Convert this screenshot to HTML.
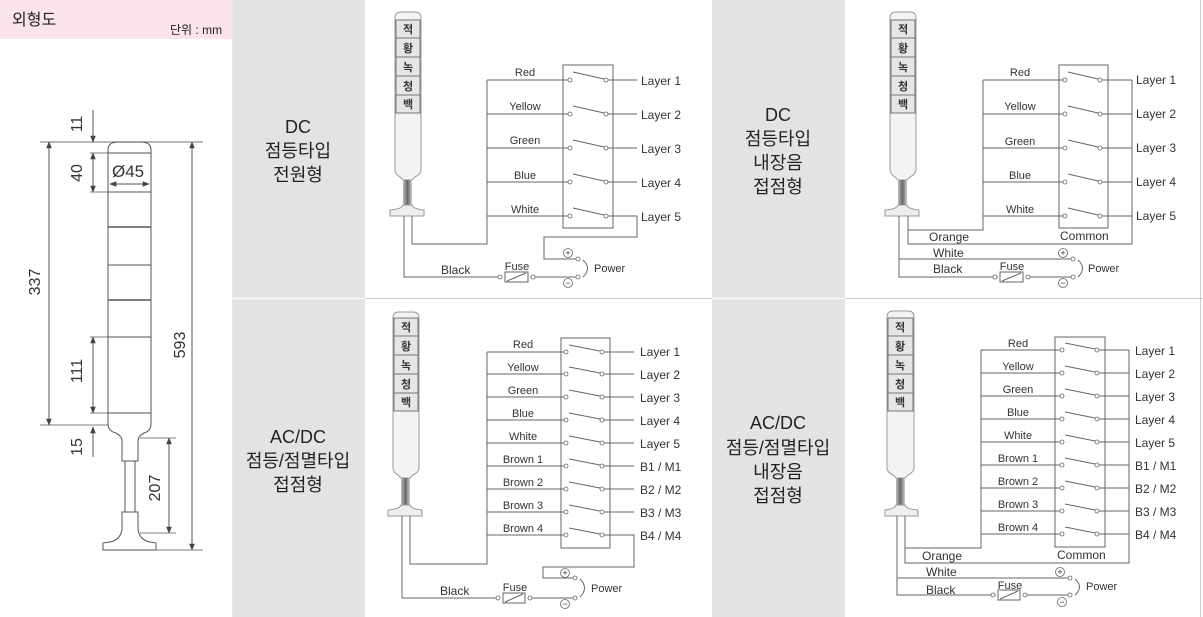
<!DOCTYPE html>
<html><head><meta charset="utf-8"><style>
html,body{margin:0;padding:0;background:#fff;}
svg{display:block;font-family:"Liberation Sans","Noto Sans CJK KR",sans-serif;}
.w{stroke:#666;stroke-width:1;fill:none}
.c{fill:#fff;stroke:#666;stroke-width:0.8}
.t{font-size:11px;fill:#333}
.L{font-size:12px;fill:#333}
.k{font-size:11px;font-weight:bold;fill:#333;text-anchor:middle}
.g{font-size:18px;fill:#222;text-anchor:middle}
.d{font-size:16px;fill:#333}
</style></head><body>
<svg width="1203" height="617" viewBox="0 0 1203 617" xmlns="http://www.w3.org/2000/svg">
<defs>
<linearGradient id="nk" x1="0" x2="1"><stop offset="0" stop-color="#bbb"/><stop offset="0.5" stop-color="#666"/><stop offset="1" stop-color="#ccc"/></linearGradient>
<marker id="ar" viewBox="0 0 10 10" refX="9" refY="5" markerWidth="7" markerHeight="7" orient="auto-start-reverse"><path d="M0,1 L10,5 L0,9 z" fill="#444"/></marker>
</defs>
<!-- backgrounds -->
<rect x="233" y="0" width="132" height="617" fill="#e3e3e3"/>
<rect x="712" y="0" width="133" height="617" fill="#e3e3e3"/>
<rect x="0" y="0" width="232" height="39" fill="#fbe3ee"/>
<line x1="232.5" y1="0" x2="232.5" y2="617" stroke="#e8e8e8"/>
<line x1="365" y1="298.5" x2="712" y2="298.5" stroke="#ccc"/>
<line x1="845" y1="298.5" x2="1203" y2="298.5" stroke="#ccc"/>
<line x1="233" y1="298.5" x2="365" y2="298.5" stroke="#fff" stroke-width="1.5"/>
<line x1="712" y1="298.5" x2="845" y2="298.5" stroke="#fff" stroke-width="1.5"/>
<line x1="1200.5" y1="0" x2="1200.5" y2="617" stroke="#ccc"/>

<!-- left panel -->
<text x="12" y="25" font-size="16" fill="#222">외형도</text>
<text x="170" y="34" font-size="12" fill="#222">단위 : mm</text>
<g stroke="#555" fill="none" stroke-width="1">
<path d="M108,424 L108,150 Q108,142 118,142 L141,142 Q151,142 151,150 L151,424 Q151,431 144,433 Q138,436 138,441 L138,461 L122,461 L122,441 Q122,436 116,433 Q108,431 108,424 Z" fill="#fff"/>
<line x1="108" y1="153" x2="151" y2="153"/>
<line x1="108" y1="192" x2="151" y2="192"/>
<line x1="108" y1="227" x2="151" y2="227" stroke-width="1.6"/>
<line x1="108" y1="265" x2="151" y2="265"/>
<line x1="108" y1="300" x2="151" y2="300" stroke-width="1.6"/>
<line x1="108" y1="337" x2="151" y2="337"/>
<line x1="108" y1="413" x2="151" y2="413"/>
<rect x="125" y="461" width="10" height="51" fill="#fff"/>
<path d="M122,512 L138,512 L138,530 Q140,540 150,542 L156,543 L156,550 L103,550 L103,543 L110,542 Q120,540 122,530 Z" fill="#fff"/>
<!-- ext lines -->
<line x1="40" y1="142" x2="203" y2="142" stroke="#444" stroke-width="0.8"/>
<line x1="90" y1="153" x2="108" y2="153" stroke-width="0.8"/>
<line x1="90" y1="192" x2="108" y2="192" stroke-width="0.8"/>
<line x1="90" y1="337" x2="108" y2="337" stroke-width="0.8"/>
<line x1="90" y1="413" x2="151" y2="413" stroke-width="0.8"/>
<line x1="40" y1="425" x2="108" y2="425" stroke-width="0.8"/>
<line x1="140" y1="438" x2="176" y2="438" stroke-width="0.8"/>
<line x1="140" y1="533" x2="176" y2="533" stroke-width="0.8"/>
<line x1="156" y1="550" x2="203" y2="550" stroke-width="0.8"/>
<!-- dims -->
<line x1="93" y1="110" x2="93" y2="142" marker-end="url(#ar)"/>
<line x1="93" y1="153" x2="93" y2="192" marker-start="url(#ar)" marker-end="url(#ar)"/>
<line x1="49" y1="142" x2="49" y2="425" marker-start="url(#ar)" marker-end="url(#ar)"/>
<line x1="93" y1="337" x2="93" y2="413" marker-start="url(#ar)" marker-end="url(#ar)"/>
<line x1="93" y1="457" x2="93" y2="427" marker-end="url(#ar)"/>
<line x1="169" y1="438" x2="169" y2="533" marker-start="url(#ar)" marker-end="url(#ar)"/>
<line x1="192" y1="142" x2="192" y2="550" marker-start="url(#ar)" marker-end="url(#ar)"/>
<line x1="110" y1="184" x2="149" y2="184" marker-start="url(#ar)" marker-end="url(#ar)"/>
</g>
<g class="d">
<text x="112" y="177" font-size="17">Ø45</text>
<text transform="translate(82,124) rotate(-90)" text-anchor="middle">11</text>
<text transform="translate(82,173) rotate(-90)" text-anchor="middle">40</text>
<text transform="translate(40,282) rotate(-90)" text-anchor="middle">337</text>
<text transform="translate(82,371) rotate(-90)" text-anchor="middle">111</text>
<text transform="translate(82,447) rotate(-90)" text-anchor="middle">15</text>
<text transform="translate(160,488) rotate(-90)" text-anchor="middle">207</text>
<text transform="translate(185,345) rotate(-90)" text-anchor="middle">593</text>
</g>

<!-- gray labels -->
<g class="g">
<text x="298" y="133">DC</text><text x="298" y="157">점등타입</text><text x="298" y="181">전원형</text>
<text x="778" y="121">DC</text><text x="778" y="145">점등타입</text><text x="778" y="169">내장음</text><text x="778" y="193">접점형</text>
<text x="298" y="443">AC/DC</text><text x="298" y="467">점등/점멸타입</text><text x="298" y="491">접점형</text>
<text x="778" y="429">AC/DC</text><text x="778" y="454">점등/점멸타입</text><text x="778" y="478">내장음</text><text x="778" y="502">접점형</text>
</g>

<!-- ========== Diagram 1 (top-left) ========== -->
<g>
<path d="M395,170 L395,18 Q395,12 401,12 L415,12 Q421,12 421,18 L421,170 Q421,174 415,177 L412,180 L403,180 L400,177 Q395,174 395,170 Z" fill="#f3f3f3" stroke="#999"/>
<rect x="403" y="180" width="9" height="25" fill="url(#nk)"/>
<path d="M403,205 L412,205 Q413,209 424,210 L424,216 L390,216 L390,210 Q402,209 403,205 Z" fill="#eee" stroke="#999"/>
<g fill="#e6e6e6" stroke="#777"><rect x="396" y="20" width="24" height="18"/><rect x="396" y="38" width="24" height="19"/><rect x="396" y="57" width="24" height="19"/><rect x="396" y="76" width="24" height="19"/><rect x="396" y="95" width="24" height="18"/></g>
<g class="k"><text x="408" y="33">적</text><text x="408" y="52">황</text><text x="408" y="71">녹</text><text x="408" y="90">청</text><text x="408" y="108">백</text></g>
<rect x="563" y="65" width="50" height="163" class="w"/>
<path class="w" d="M487,80 V244 H412 V216 M487,80 H568 M487,114 H568 M487,148 H568 M487,182 H568 M487,216 H568
M608,80 H637 M608,114 H637 M608,148 H637 M608,182 H637 M608,216 H637 V237 H544 V259 H576
M573,72 L604,79 M573,106 L604,113 M573,140 L604,147 M573,174 L604,181 M573,208 L604,215
M404,216 V277 H498 M530,277 H576"/>
<rect x="505" y="272" width="23" height="10" class="w"/><line x1="507" y1="281" x2="526" y2="273" class="w"/>
<g class="c"><circle cx="570" cy="80" r="2"/><circle cx="606" cy="80" r="2"/><circle cx="570" cy="114" r="2"/><circle cx="606" cy="114" r="2"/><circle cx="570" cy="148" r="2"/><circle cx="606" cy="148" r="2"/><circle cx="570" cy="182" r="2"/><circle cx="606" cy="182" r="2"/><circle cx="570" cy="216" r="2"/><circle cx="606" cy="216" r="2"/><circle cx="500" cy="277" r="2"/><circle cx="533" cy="277" r="2"/><circle cx="578" cy="259" r="2"/><circle cx="578" cy="277" r="2"/></g>
<path d="M583,260 Q592,268 583,277" class="w"/>
<g class="t" text-anchor="middle"><text x="525" y="76">Red</text><text x="525" y="110">Yellow</text><text x="525" y="144">Green</text><text x="525" y="179">Blue</text><text x="525" y="213">White</text><text x="517" y="270">Fuse</text></g>
<text x="441" y="274" class="L">Black</text>
<text x="594" y="272" class="t">Power</text>
<g font-size="9" fill="#333" text-anchor="middle"><circle cx="568" cy="253" r="4.5" class="c"/><text x="568" y="256">+</text><circle cx="568" cy="283" r="4.5" class="c"/><text x="568" y="286">−</text></g>
<g class="L"><text x="641" y="85">Layer 1</text><text x="641" y="119">Layer 2</text><text x="641" y="153">Layer 3</text><text x="641" y="187">Layer 4</text><text x="641" y="221">Layer 5</text></g>
</g>

<!-- ========== Diagram 2 (top-right) ========== -->
<g>
<path d="M890,170 L890,18 Q890,12 896,12 L910,12 Q916,12 916,18 L916,170 Q916,174 910,177 L907,180 L898,180 L895,177 Q890,174 890,170 Z" fill="#f3f3f3" stroke="#999"/>
<rect x="898" y="180" width="9" height="25" fill="url(#nk)"/>
<path d="M898,205 L907,205 Q908,209 919,210 L919,216 L885,216 L885,210 Q897,209 898,205 Z" fill="#eee" stroke="#999"/>
<g fill="#e6e6e6" stroke="#777"><rect x="891" y="20" width="24" height="18"/><rect x="891" y="38" width="24" height="19"/><rect x="891" y="57" width="24" height="19"/><rect x="891" y="76" width="24" height="19"/><rect x="891" y="95" width="24" height="18"/></g>
<g class="k"><text x="903" y="33">적</text><text x="903" y="52">황</text><text x="903" y="71">녹</text><text x="903" y="90">청</text><text x="903" y="108">백</text></g>
<rect x="1059" y="65" width="49" height="163" class="w"/>
<path class="w" d="M983,80 V230 H908 V216 M908,230 V244 H1132 V80 M983,80 H1063 M983,114 H1063 M983,148 H1063 M983,182 H1063 M983,216 H1063
M1102,80 H1132 M1102,114 H1132 M1102,148 H1132 M1102,182 H1132 M1102,216 H1132
M1068,72 L1098,79 M1068,106 L1098,113 M1068,140 L1098,147 M1068,174 L1098,181 M1068,208 L1098,215
M899,216 V277 H998 M899,259 H1071 M1026,277 H1071"/>
<rect x="1000" y="272" width="23" height="10" class="w"/><line x1="1002" y1="281" x2="1021" y2="273" class="w"/>
<g class="c"><circle cx="1065" cy="80" r="2"/><circle cx="1100" cy="80" r="2"/><circle cx="1065" cy="114" r="2"/><circle cx="1100" cy="114" r="2"/><circle cx="1065" cy="148" r="2"/><circle cx="1100" cy="148" r="2"/><circle cx="1065" cy="182" r="2"/><circle cx="1100" cy="182" r="2"/><circle cx="1065" cy="216" r="2"/><circle cx="1100" cy="216" r="2"/><circle cx="995" cy="277" r="2"/><circle cx="1028" cy="277" r="2"/><circle cx="1073" cy="259" r="2"/><circle cx="1073" cy="277" r="2"/></g>
<path d="M1078,260 Q1087,268 1078,277" class="w"/>
<g class="t" text-anchor="middle"><text x="1020" y="76">Red</text><text x="1020" y="110">Yellow</text><text x="1020" y="145">Green</text><text x="1020" y="179">Blue</text><text x="1020" y="213">White</text><text x="1012" y="270">Fuse</text></g>
<g class="L"><text x="929" y="241">Orange</text><text x="1060" y="240">Common</text><text x="933" y="257">White</text><text x="933" y="273">Black</text></g>
<text x="1088" y="272" class="t">Power</text>
<g font-size="9" fill="#333" text-anchor="middle"><circle cx="1063" cy="253" r="4.5" class="c"/><text x="1063" y="256">+</text><circle cx="1063" cy="283" r="4.5" class="c"/><text x="1063" y="286">−</text></g>
<g class="L"><text x="1136" y="84">Layer 1</text><text x="1136" y="118">Layer 2</text><text x="1136" y="152">Layer 3</text><text x="1136" y="186">Layer 4</text><text x="1136" y="220">Layer 5</text></g>
</g>

<!-- ========== Diagram 3 (bottom-left) ========== -->
<g>
<path d="M393,468 L393,318 Q393,312 399,312 L413,312 Q419,312 419,318 L419,468 Q419,472 413,475 L410,478 L401,478 L398,475 Q393,472 393,468 Z" fill="#f3f3f3" stroke="#999"/>
<rect x="401" y="478" width="9" height="27" fill="url(#nk)"/>
<path d="M401,505 L410,505 Q411,509 422,510 L422,516 L388,516 L388,510 Q400,509 401,505 Z" fill="#eee" stroke="#999"/>
<g fill="#e6e6e6" stroke="#777"><rect x="394" y="318" width="24" height="18"/><rect x="394" y="336" width="24" height="19"/><rect x="394" y="355" width="24" height="19"/><rect x="394" y="374" width="24" height="19"/><rect x="394" y="393" width="24" height="18"/></g>
<g class="k"><text x="406" y="331">적</text><text x="406" y="350">황</text><text x="406" y="369">녹</text><text x="406" y="388">청</text><text x="406" y="406">백</text></g>
<rect x="561" y="338" width="49" height="210" class="w"/>
<path class="w" d="M487,352 V564 H410 V516 M487,352 H564 M487,374 H564 M487,397 H564 M487,420 H564 M487,443 H564 M487,466 H564 M487,489 H564 M487,512 H564 M487,535 H564
M604,352 H634 M604,374 H634 M604,397 H634 M604,420 H634 M604,443 H634 M604,466 H634 M604,489 H634 M604,512 H634 M604,535 H634 V567 H543 V578 H573
M569,345 L600,351 M569,367 L600,373 M569,390 L600,396 M569,413 L600,419 M569,436 L600,442 M569,459 L600,465 M569,482 L600,488 M569,505 L600,511 M569,528 L600,534
M402,516 V598 H496 M528,598 H573"/>
<rect x="503" y="593" width="22" height="10" class="w"/><line x1="505" y1="602" x2="523" y2="594" class="w"/>
<g class="c"><circle cx="566" cy="352" r="2"/><circle cx="602" cy="352" r="2"/><circle cx="566" cy="374" r="2"/><circle cx="602" cy="374" r="2"/><circle cx="566" cy="397" r="2"/><circle cx="602" cy="397" r="2"/><circle cx="566" cy="420" r="2"/><circle cx="602" cy="420" r="2"/><circle cx="566" cy="443" r="2"/><circle cx="602" cy="443" r="2"/><circle cx="566" cy="466" r="2"/><circle cx="602" cy="466" r="2"/><circle cx="566" cy="489" r="2"/><circle cx="602" cy="489" r="2"/><circle cx="566" cy="512" r="2"/><circle cx="602" cy="512" r="2"/><circle cx="566" cy="535" r="2"/><circle cx="602" cy="535" r="2"/><circle cx="498" cy="598" r="2"/><circle cx="530" cy="598" r="2"/><circle cx="575" cy="578" r="2"/><circle cx="575" cy="598" r="2"/></g>
<path d="M580,579 Q589,588 580,597" class="w"/>
<g class="t" text-anchor="middle"><text x="523" y="348">Red</text><text x="523" y="371">Yellow</text><text x="523" y="394">Green</text><text x="523" y="417">Blue</text><text x="523" y="440">White</text><text x="523" y="463">Brown 1</text><text x="523" y="486">Brown 2</text><text x="523" y="509">Brown 3</text><text x="523" y="532">Brown 4</text><text x="515" y="591">Fuse</text></g>
<text x="440" y="595" class="L">Black</text>
<text x="591" y="592" class="t">Power</text>
<g font-size="9" fill="#333" text-anchor="middle"><circle cx="565" cy="573" r="4.5" class="c"/><text x="565" y="576">+</text><circle cx="565" cy="604" r="4.5" class="c"/><text x="565" y="607">−</text></g>
<g class="L"><text x="640" y="356">Layer 1</text><text x="640" y="379">Layer 2</text><text x="640" y="402">Layer 3</text><text x="640" y="425">Layer 4</text><text x="640" y="448">Layer 5</text><text x="640" y="471">B1 / M1</text><text x="640" y="494">B2 / M2</text><text x="640" y="517">B3 / M3</text><text x="640" y="540">B4 / M4</text></g>
</g>

<!-- ========== Diagram 4 (bottom-right) ========== -->
<g>
<path d="M887,468 L887,317 Q887,311 893,311 L908,311 Q914,311 914,317 L914,468 Q914,472 908,475 L905,478 L896,478 L893,475 Q887,472 887,468 Z" fill="#f3f3f3" stroke="#999"/>
<rect x="896" y="478" width="9" height="27" fill="url(#nk)"/>
<path d="M896,505 L905,505 Q906,509 918,510 L918,516 L885,516 L885,510 Q895,509 896,505 Z" fill="#eee" stroke="#999"/>
<g fill="#e6e6e6" stroke="#777"><rect x="888" y="318" width="25" height="18"/><rect x="888" y="336" width="25" height="19"/><rect x="888" y="355" width="25" height="19"/><rect x="888" y="374" width="25" height="19"/><rect x="888" y="393" width="25" height="18"/></g>
<g class="k"><text x="900" y="331">적</text><text x="900" y="350">황</text><text x="900" y="369">녹</text><text x="900" y="388">청</text><text x="900" y="406">백</text></g>
<rect x="1055" y="337" width="50" height="210" class="w"/>
<path class="w" d="M981,350 V548 H905 V516 M905,548 V563 H1129 V350 M981,350 H1060 M981,373 H1060 M981,396 H1060 M981,419 H1060 M981,442 H1060 M981,465 H1060 M981,488 H1060 M981,511 H1060 M981,534 H1060
M1099,350 H1129 M1099,373 H1129 M1099,396 H1129 M1099,419 H1129 M1099,442 H1129 M1099,465 H1129 M1099,488 H1129 M1099,511 H1129 M1099,534 H1129
M1065,343 L1095,349 M1065,366 L1095,372 M1065,389 L1095,395 M1065,412 L1095,418 M1065,435 L1095,441 M1065,458 L1095,464 M1065,481 L1095,487 M1065,504 L1095,510 M1065,527 L1095,533
M897,516 V595 H996 M897,578 H1068 M1024,595 H1068"/>
<rect x="998" y="590" width="22" height="10" class="w"/><line x1="1000" y1="599" x2="1018" y2="591" class="w"/>
<g class="c"><circle cx="1062" cy="350" r="2"/><circle cx="1097" cy="350" r="2"/><circle cx="1062" cy="373" r="2"/><circle cx="1097" cy="373" r="2"/><circle cx="1062" cy="396" r="2"/><circle cx="1097" cy="396" r="2"/><circle cx="1062" cy="419" r="2"/><circle cx="1097" cy="419" r="2"/><circle cx="1062" cy="442" r="2"/><circle cx="1097" cy="442" r="2"/><circle cx="1062" cy="465" r="2"/><circle cx="1097" cy="465" r="2"/><circle cx="1062" cy="488" r="2"/><circle cx="1097" cy="488" r="2"/><circle cx="1062" cy="511" r="2"/><circle cx="1097" cy="511" r="2"/><circle cx="1062" cy="534" r="2"/><circle cx="1097" cy="534" r="2"/><circle cx="993" cy="595" r="2"/><circle cx="1025" cy="595" r="2"/><circle cx="1070" cy="578" r="2"/><circle cx="1070" cy="595" r="2"/></g>
<path d="M1075,579 Q1084,587 1075,595" class="w"/>
<g class="t" text-anchor="middle"><text x="1018" y="347">Red</text><text x="1018" y="370">Yellow</text><text x="1018" y="393">Green</text><text x="1018" y="416">Blue</text><text x="1018" y="439">White</text><text x="1018" y="462">Brown 1</text><text x="1018" y="485">Brown 2</text><text x="1018" y="508">Brown 3</text><text x="1018" y="531">Brown 4</text><text x="1010" y="589">Fuse</text></g>
<g class="L"><text x="922" y="560">Orange</text><text x="1057" y="559">Common</text><text x="926" y="576">White</text><text x="926" y="594">Black</text></g>
<text x="1086" y="590" class="t">Power</text>
<g font-size="9" fill="#333" text-anchor="middle"><circle cx="1060" cy="572" r="4.5" class="c"/><text x="1060" y="575">+</text><circle cx="1062" cy="602" r="4.5" class="c"/><text x="1062" y="605">−</text></g>
<g class="L"><text x="1135" y="355">Layer 1</text><text x="1135" y="378">Layer 2</text><text x="1135" y="401">Layer 3</text><text x="1135" y="424">Layer 4</text><text x="1135" y="447">Layer 5</text><text x="1135" y="470">B1 / M1</text><text x="1135" y="493">B2 / M2</text><text x="1135" y="516">B3 / M3</text><text x="1135" y="539">B4 / M4</text></g>
</g>
</svg>
</body></html>
